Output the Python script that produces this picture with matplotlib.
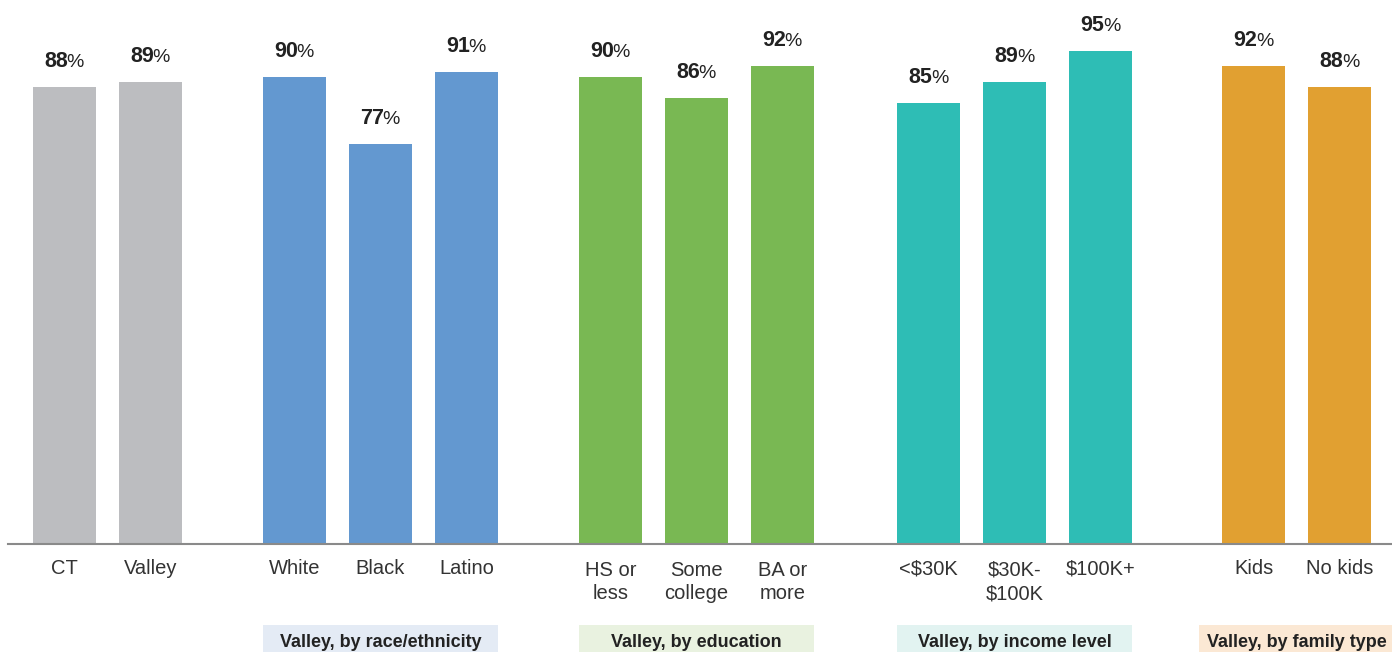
import matplotlib.pyplot as plt
from matplotlib.patches import Rectangle

plt.rcParams['font.family'] = ['Liberation Sans', 'DejaVu Sans']

# datos por grupo
groups = ['', 'Valley, by race/ethnicity', 'Valley, by education',
          'Valley, by income level', 'Valley, by family type']
labels = [['CT', 'Valley'],
          ['White', 'Black', 'Latino'],
          ['HS or\nless', 'Some\ncollege', 'BA or\nmore'],
          ['<$30K', '$30K-\n$100K', '$100K+'],
          ['Kids', 'No kids']]
values = [[88, 89],
          [90, 77, 91],
          [90, 86, 92],
          [85, 89, 95],
          [92, 88]]
bar_colors = ['#bcbdc0', '#6398d0', '#79b853', '#2ebdb5', '#e1a031']
box_colors = ['none', '#e4ebf5', '#e9f2e0', '#e2f3f1', '#fbe8d4']

# separacion entre grupos (en unidades de barra)
gaps = [0, 1.674, 1.674, 1.70, 1.78]
width = 0.733

fig = plt.figure(figsize=(13.92, 6.52), dpi=100)
ax = fig.add_axes([0, 0, 1, 1])
ax.set_xlim(-0.75, 15.436)
ax.set_ylim(-20.8, 104.8)
ax.axis('off')

x = 0
spans = []
for g in range(len(values)):
    x += gaps[g]
    xs = []
    for i, v in enumerate(values[g]):
        xs.append(x)
        ax.bar(x, v, width=width, color=bar_colors[g], zorder=2)
        ax.annotate(str(v), (x, v), xytext=(2.8, 14.4), textcoords='offset points',
                    ha='right', va='baseline', fontsize=15.5, fontweight='bold',
                    color='#222222')
        ax.annotate('%', (x, v), xytext=(1.6, 14.4), textcoords='offset points',
                    ha='left', va='baseline', fontsize=14, color='#222222')
        # la linea base de la ultima linea baja 18 pt por cada linea extra
        n = labels[g][i].count('\n')
        ax.annotate(labels[g][i], (x, 0), xytext=(0, -21.6 - 18 * n),
                    textcoords='offset points', ha='center', va='baseline',
                    fontsize=14.5, color='#333333', linespacing=1.3)
        x += 1
    x -= 1
    spans.append((xs[0] - width / 2, xs[-1] + width / 2))

# linea base
ax.axhline(0, xmin=8 / 1392, xmax=1, color='#8a8a8a', lw=1.5, zorder=3)

# etiquetas de grupo con caja
fig.canvas.draw()
r = fig.canvas.get_renderer()
inv = ax.transData.inverted()
for g in range(1, len(groups)):
    cx = (spans[g][0] + spans[g][1]) / 2
    t = ax.annotate(groups[g], (cx, 0), xytext=(0, -74), textcoords='offset points',
                    ha='center', va='baseline', fontsize=13, fontweight='bold',
                    color='#222222', zorder=4)
    bb = t.get_window_extent(renderer=r)
    x0 = min(spans[g][0], inv.transform((bb.x0 - 8, 0))[0])
    x1 = max(spans[g][1], inv.transform((bb.x1 + 8, 0))[0])
    ax.add_patch(Rectangle((x0, -20.8), x1 - x0, 5.2, facecolor=box_colors[g],
                           edgecolor='none', zorder=1, clip_on=False))

fig.savefig('out.png', dpi=100)
